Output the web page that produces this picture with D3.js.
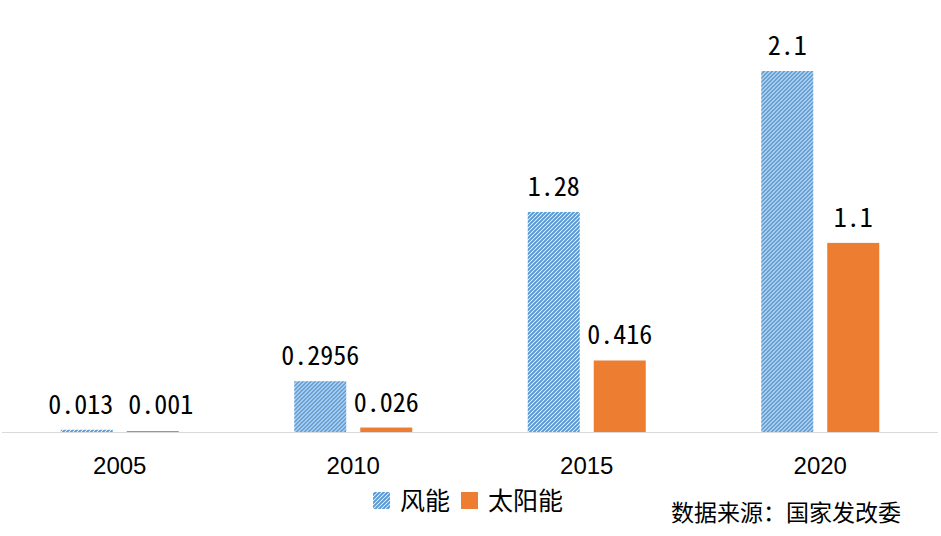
<!DOCTYPE html>
<html>
<head>
<meta charset="utf-8">
<script src="https://cdn.jsdelivr.net/npm/d3@7"></script>
<style>
  html, body { margin: 0; padding: 0; background: #fff; }
  svg { display: block; }
  .val { font-family: "Noto Sans CJK SC", sans-serif; font-feature-settings: "hwid" 1; font-size: 26px; font-weight: 400; fill: #000; }
  .axis-label { font-family: "Liberation Sans", Arial, sans-serif; font-size: 24px; fill: #000; }
  .legend { font-family: "Noto Sans CJK SC", sans-serif; font-size: 25px; fill: #000; }
  .source { font-family: "Noto Sans CJK SC", sans-serif; font-size: 23px; fill: #000; }
</style>
</head>
<body>
<svg id="chart" width="941" height="536"></svg>
<script>
const categories = ["2005", "2010", "2015", "2020"];
const seriesNames = ["风能", "太阳能"];
const windValues = [0.013, 0.2956, 1.28, 2.1];
const solarValues = [0.001, 0.026, 0.416, 1.1];
const windLabels = ["0.013", "0.2956", "1.28", "2.1"];
const solarLabels = ["0.001", "0.026", "0.416", "1.1"];
const sourceText = "数据来源：国家发改委";

const svg = d3.select("#chart");
const baseY = 432;

const defs = svg.append("defs");
const pat = defs.append("pattern")
  .attr("id", "hatch")
  .attr("patternUnits", "userSpaceOnUse")
  .attr("width", 4).attr("height", 4);
pat.append("rect").attr("width", 4).attr("height", 4).attr("fill", "#fff");
pat.append("path")
  .attr("d", "M-1,1 l2,-2 M0,4 l4,-4 M3,5 l2,-2")
  .attr("stroke", "#5B9BD5").attr("stroke-width", 2);

const x0 = d3.scaleBand().domain(categories).range([3, 937]).paddingInner(0).paddingOuter(0);
const x1 = d3.scaleBand().domain(seriesNames).range([0, x0.bandwidth()]).paddingInner(0.212).paddingOuter(0.875);
const y = d3.scaleLinear().domain([0, 2.1]).range([baseY, 71]);

const fills = { "风能": "url(#hatch)", "太阳能": "#ED7D31" };

const rows = categories.map((c, i) => ({
  cat: c,
  items: [
    { s: "风能", v: windValues[i], label: windLabels[i] },
    { s: "太阳能", v: solarValues[i], label: solarLabels[i] }
  ]
}));

// label adjustments (only the crowded 2005 pair was nudged in the original)
const labelShift = { "2005": { "风能": [-6, 0], "太阳能": [8, -2] } };

const g = svg.append("g");
const groups = g.selectAll("g.cat").data(rows).enter().append("g")
  .attr("class", "cat")
  .attr("transform", d => `translate(${x0(d.cat)},0)`);

groups.selectAll("rect").data(d => d.items).enter().append("rect")
  .attr("x", d => x1(d.s))
  .attr("width", x1.bandwidth())
  .attr("y", d => Math.min(y(d.v), baseY - 1))
  .attr("height", d => Math.max(baseY - y(d.v), 1))
  .attr("fill", d => fills[d.s]);

groups.each(function(row) {
  d3.select(this).selectAll("text.val").data(row.items).enter().append("text")
    .attr("class", "val")
    .attr("text-anchor", "middle")
    .attr("x", d => x1(d.s) + x1.bandwidth() / 2 + ((labelShift[row.cat] || {})[d.s] || [0, 0])[0])
    .attr("y", d => y(d.v) - 16 + ((labelShift[row.cat] || {})[d.s] || [0, 0])[1])
    .text(d => d.label);
});

// axis
const xAxis = d3.axisBottom(x0).tickSize(0).tickPadding(0);
const axisG = svg.append("g").attr("transform", `translate(0,${baseY})`).call(xAxis);
axisG.select(".domain").attr("d", "M2,0.5H938").attr("stroke", "#d9d9d9").attr("stroke-width", 1.2);
axisG.selectAll(".tick text")
  .attr("class", "axis-label")
  .attr("font-family", null).attr("font-size", null).attr("fill", null)
  .attr("y", 42).attr("dy", null);

// legend
const leg = svg.append("g");
const legX = [373, 461];
const legTX = [400, 488];
seriesNames.forEach((s, i) => {
  leg.append("rect").attr("x", legX[i]).attr("y", 492).attr("width", 17).attr("height", 17).attr("fill", fills[s]);
  leg.append("text").attr("class", "legend").attr("x", legTX[i]).attr("y", 510).text(s);
});

svg.append("text").attr("class", "source").attr("x", 671).attr("y", 521).text(sourceText);
</script>
</body>
</html>
